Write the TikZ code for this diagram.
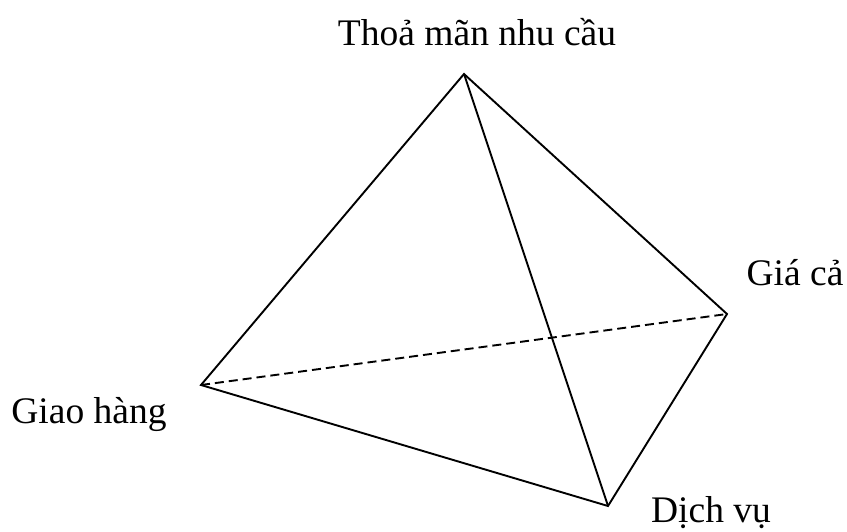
\documentclass[tikz,border=0pt]{standalone}
\usepackage{fontspec}
\setmainfont{Liberation Serif}
\tikzset{lbl/.style={font=\fontsize{37.5}{40}\selectfont,inner sep=0pt,anchor=base}}
\begin{document}
\begin{tikzpicture}[x=1pt,y=-1pt,line width=1.9pt]
        \useasboundingbox (0,0) rectangle (847,531);
        \coordinate (T) at (464,74);
        \coordinate (G) at (727,314);
        \coordinate (D) at (608,506);
        \coordinate (H) at (201,385);

        \draw (T) -- (H) -- (D) -- (G) -- cycle;
        \draw (T) -- (D);
        \draw[dash pattern=on 9pt off 5pt] (H) -- (G);

        \node[lbl] (nhucau) at (477,45) {Thoả mãn nhu cầu};
        \node[lbl] (giaca) at (795,285) {Giá cả};
        \node[lbl] (giaohang) at (89,423) {Giao hàng};
        \node[lbl] (dichvu) at (711,522) {Dịch vụ};
    \end{tikzpicture}
\end{document}
